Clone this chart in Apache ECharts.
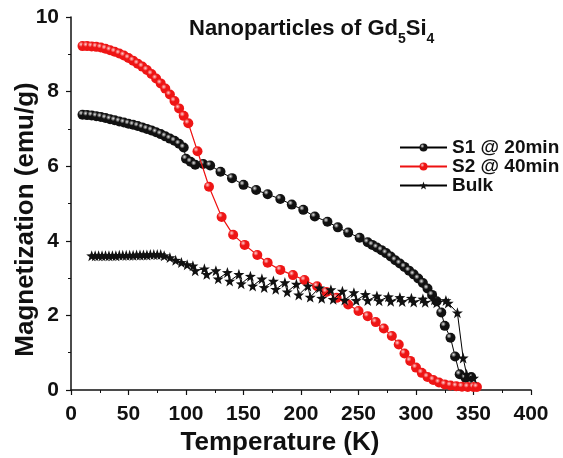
<!DOCTYPE html>
<html><head><meta charset="utf-8">
<script src="https://cdn.jsdelivr.net/npm/echarts@6/dist/echarts.min.js"></script>
<style>html,body{margin:0;padding:0;background:#fff}#c{width:563px;height:458px}</style>
</head><body><div id="c"></div>
<script>
// ---- data ----
var s1T = [10,14,18,22,26,30,34,38,42,46,50,54,58,62,66,70,74,78,82,86,90,94,98,100,104,108,115,121,130,140,150,161,171,182,192,202,212,223,232,241,251,258,262,266,270,274,278,282,286,290,294,298,302,306,310,314,318,322,325,330,334,338,343,348];
var s1M = [7.38,7.37,7.36,7.34,7.32,7.29,7.26,7.23,7.2,7.17,7.14,7.11,7.08,7.04,7.0,6.96,6.91,6.86,6.8,6.74,6.68,6.6,6.5,6.2,6.12,6.04,6.06,6.02,5.85,5.68,5.5,5.36,5.25,5.12,4.97,4.83,4.65,4.51,4.36,4.22,4.08,3.96,3.89,3.82,3.75,3.67,3.58,3.48,3.39,3.3,3.2,3.1,2.99,2.87,2.72,2.55,2.38,2.08,1.72,1.4,0.9,0.42,0.33,0.35];

var s2T = [10,14,18,22,26,30,34,38,42,46,50,54,58,62,66,70,74,78,82,86,90,94,98,102,110,120,131,141,151,162,171,182,193,203,214,222,231,241,250,258,265,272,279,285,290,295,300,305,310,315,320,325,330,335,340,345,350,353];
var s2M = [9.22,9.22,9.21,9.2,9.18,9.15,9.11,9.07,9.02,8.97,8.9,8.83,8.75,8.67,8.58,8.47,8.35,8.22,8.08,7.92,7.75,7.55,7.35,7.15,6.4,5.45,4.64,4.16,3.89,3.62,3.41,3.22,3.08,2.95,2.78,2.63,2.47,2.29,2.12,1.98,1.82,1.65,1.45,1.22,0.98,0.78,0.6,0.46,0.35,0.27,0.2,0.15,0.12,0.1,0.09,0.08,0.08,0.08];

var bulkT = [18,21,24,27,30,33,36,39,42,45,48,51,54,57,60,63,66,69,72,75,78,81,86,91,96,101,106,108,116,118,126,128,136,138,146,148,156,158,166,168,176,178,186,188,196,198,206,208,216,218,226,228,236,238,246,248,256,258,266,268,276,278,286,288,296,298,306,308,316,318,326,328,336,341,344,350];
var bulkM = [3.6,3.6,3.6,3.6,3.6,3.6,3.6,3.6,3.61,3.61,3.61,3.61,3.61,3.62,3.62,3.62,3.62,3.63,3.63,3.63,3.63,3.6,3.55,3.48,3.42,3.36,3.33,3.2,3.25,3.1,3.2,2.98,3.15,2.92,3.1,2.85,3.05,2.79,2.98,2.75,2.92,2.7,2.88,2.63,2.84,2.55,2.79,2.49,2.74,2.46,2.69,2.43,2.65,2.41,2.61,2.4,2.56,2.4,2.52,2.39,2.5,2.38,2.48,2.37,2.46,2.36,2.44,2.35,2.42,2.34,2.4,2.33,2.07,0.86,0.42,0.32];

var xTicks = [0,50,100,150,200,250,300,350,400];
var yTicks = [0,2,4,6,8,10];
var seriesNames = ['S1 @ 20min','S2 @ 40min','Bulk'];

function zip(a,b){var r=[];for(var i=0;i<a.length;i++)r.push([a[i],b[i]]);return r;}

var F = 'Liberation Sans, Arial, sans-serif';
function ball(base, hi){
  return {type:'radial',x:0.35,y:0.32,r:0.75,colorStops:[{offset:0,color:hi},{offset:0.35,color:base},{offset:1,color:base}]};
}
var star = 'path://M0,-10 L2.35,-3.24 L9.51,-3.09 L3.8,1.24 L5.88,8.09 L0,4 L-5.88,8.09 L-3.8,1.24 L-9.51,-3.09 L-2.35,-3.24 Z';

var chart = echarts.init(document.getElementById('c'), null, {renderer:'canvas'});
chart.setOption({
  animation:false,
  backgroundColor:'#fff',
  title:{
    left:189, top:14, padding:0,
    text:'{a|Nanoparticles of Gd}{s|5}{a|Si}{s|4}',
    textStyle:{rich:{
      a:{fontFamily:F,fontWeight:'bold',fontSize:22,color:'#111',lineHeight:26,verticalAlign:'bottom'},
      s:{fontFamily:F,fontWeight:'bold',fontSize:14,color:'#111',lineHeight:26,verticalAlign:'bottom',padding:[0,0,-6,0]}
    }}
  },
  legend:{
    orient:'vertical', left:399, top:138, padding:0, itemGap:0, itemWidth:47, itemHeight:10,
    textStyle:{fontFamily:F,fontWeight:'bold',fontSize:19,color:'#111'},
    data:seriesNames
  },
  grid:{left:71,right:32,top:17,bottom:68,containLabel:false,outerBoundsMode:'none'},
  xAxis:{
    type:'value', min:0, max:400, interval:50,
    name:'Temperature (K)', nameLocation:'middle', nameGap:40, nameMoveOverlap:false,
    nameTextStyle:{fontFamily:F,fontWeight:'bold',fontSize:26,color:'#111',padding:[0,42,0,0]},
    axisLine:{show:true,onZero:false,lineStyle:{color:'#111',width:1.5}},
    axisTick:{show:true,length:5,lineStyle:{color:'#111',width:1.2}},
    minorTick:{show:true,splitNumber:2,length:3,lineStyle:{color:'#111',width:1}},
    axisLabel:{fontFamily:F,fontWeight:'bold',fontSize:21,color:'#111',margin:14,
      formatter:function(v){return xTicks.indexOf(v)>=0?String(v):'';}},
    splitLine:{show:false}
  },
  yAxis:{
    type:'value', min:0, max:10, interval:2,
    name:'Magnetization (emu/g)', nameLocation:'middle', nameGap:32, nameMoveOverlap:false,
    nameTextStyle:{fontFamily:F,fontWeight:'bold',fontSize:26,color:'#111',padding:[0,32,0,0]},
    axisLine:{show:true,onZero:false,lineStyle:{color:'#111',width:1.5}},
    axisTick:{show:true,length:5,lineStyle:{color:'#111',width:1.2}},
    minorTick:{show:true,splitNumber:2,length:3,lineStyle:{color:'#111',width:1}},
    axisLabel:{fontFamily:F,fontWeight:'bold',fontSize:21,color:'#111',margin:12,
      formatter:function(v){return yTicks.indexOf(v)>=0?String(v):'';}},
    splitLine:{show:false}
  },
  series:[
    {name:seriesNames[0],type:'line',z:2,data:zip(s1T,s1M),symbol:'circle',symbolSize:10,
      lineStyle:{color:'#000',width:1},itemStyle:{color:ball('#111','#e8e8e8'),borderWidth:0}},
    {name:seriesNames[1],type:'line',z:3,data:zip(s2T,s2M),symbol:'circle',symbolSize:10,
      lineStyle:{color:'#ee1111',width:1.2},itemStyle:{color:ball('#ee1515','#ffd0d0'),borderWidth:0}},
    {name:seriesNames[2],type:'line',z:4,data:zip(bulkT,bulkM),symbol:star,symbolSize:11,
      lineStyle:{color:'#000',width:1},itemStyle:{color:'#111',borderWidth:0}}
  ]
});
</script></body></html>
